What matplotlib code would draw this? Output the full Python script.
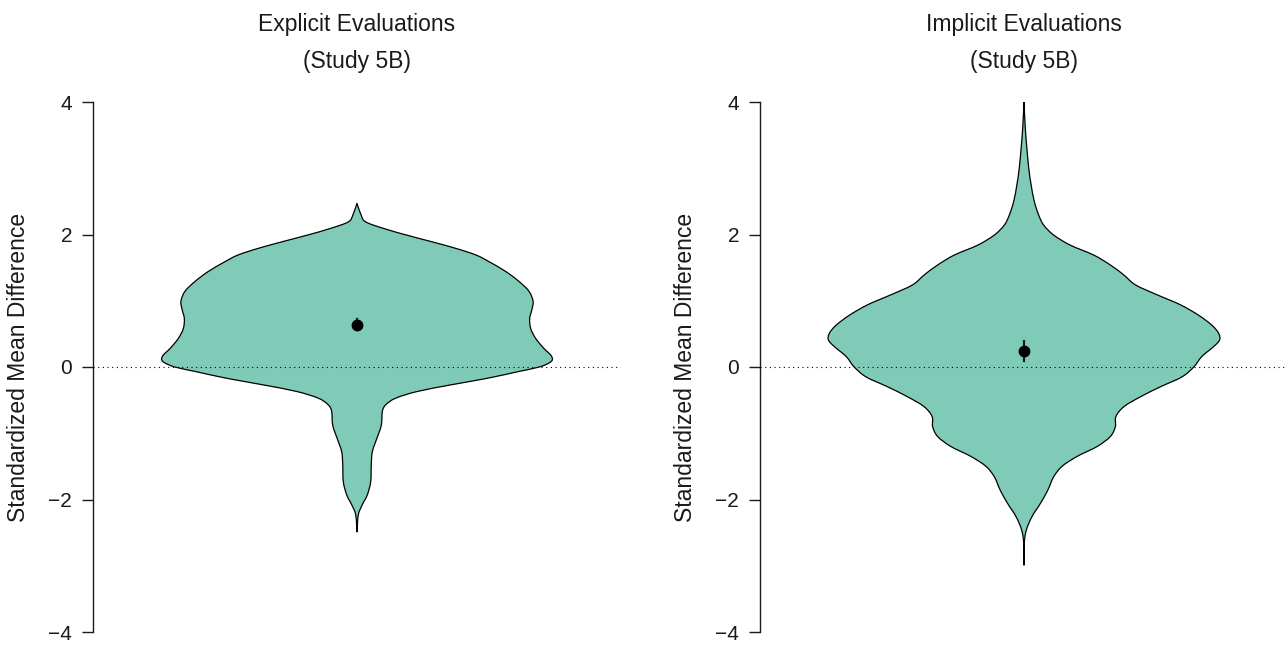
import numpy as np
import matplotlib

matplotlib.use("Agg")

import matplotlib.pyplot as plt
from matplotlib.path import Path
from matplotlib.patches import PathPatch


############################################################
# Data
############################################################

panel_titles = [
    "Explicit Evaluations",
    "Implicit Evaluations",
]

study_label = "(Study 5B)"

y_label = "Standardized Mean Difference"

y_ticks = [-4, -2, 0, 2, 4]

# Violin outlines: density levels (y) and half widths (x units)
explicit_y = [
    2.47, 2.29, 2.19, 2.09, 1.99, 1.89, 1.79, 1.69, 1.59, 1.44,
    1.29, 1.14, 0.99, 0.86, 0.73, 0.58, 0.43, 0.28, 0.18, 0.11,
    0.06, 0.00, -0.07, -0.17, -0.27, -0.37, -0.47, -0.57, -0.67,
    -0.88, -1.08, -1.28, -1.48, -1.73, -1.93, -2.08, -2.23, -2.49,
]

explicit_half_width = [
    0.000, 0.016, 0.033, 0.102, 0.189, 0.284, 0.375, 0.451, 0.500, 0.564,
    0.614, 0.652, 0.667, 0.662, 0.654, 0.658, 0.677, 0.708, 0.734, 0.740,
    0.727, 0.690, 0.610, 0.494, 0.355, 0.228, 0.147, 0.109, 0.096,
    0.092, 0.075, 0.058, 0.054, 0.052, 0.039, 0.020, 0.005, 0.000,
]

implicit_y = [
    4.00, 3.60, 3.30, 3.00, 2.75, 2.50, 2.29, 2.14, 1.99, 1.84,
    1.69, 1.54, 1.39, 1.24, 1.09, 0.94, 0.78, 0.63, 0.51, 0.41,
    0.31, 0.16, 0.00, -0.15, -0.30, -0.45, -0.60, -0.75, -0.90,
    -1.05, -1.20, -1.35, -1.50, -1.66, -1.86, -2.06, -2.26, -2.46,
    -2.66, -2.99,
]

implicit_half_width = [
    0.000, 0.005, 0.011, 0.018, 0.027, 0.039, 0.056, 0.075, 0.113, 0.175,
    0.264, 0.327, 0.378, 0.422, 0.504, 0.592, 0.662, 0.712, 0.737, 0.741,
    0.719, 0.674, 0.643, 0.598, 0.516, 0.441, 0.378, 0.348, 0.346,
    0.327, 0.277, 0.201, 0.144, 0.112, 0.090, 0.062, 0.030, 0.009,
    0.001, 0.000,
]

# Mean estimate with its interval
means = [0.63, 0.24]
ci_low = [0.56, 0.09]
ci_high = [0.72, 0.39]


############################################################
# Style
############################################################

FILL = "#7fcbb8"
INK = "#1a1a1a"

plt.rcParams["font.family"] = ["Liberation Sans", "DejaVu Sans"]


def smooth_segments(points):

    # Catmull-Rom spline through the points, written as cubic Bezier pieces
    points = np.asarray(points, dtype=float)
    n = len(points)

    verts = []

    for i in range(n - 1):
        p0 = points[max(i - 1, 0)]
        p1 = points[i]
        p2 = points[i + 1]
        p3 = points[min(i + 2, n - 1)]

        verts.append(p1 + (p2 - p0) / 6.0)
        verts.append(p2 - (p3 - p1) / 6.0)
        verts.append(p2)

    return verts


def violin_path(y, half_width, centre=1.0):

    y = np.asarray(y, dtype=float)
    half_width = np.asarray(half_width, dtype=float)

    left_side = np.column_stack([centre - half_width, y])
    right_side = np.column_stack([centre + half_width, y])[::-1]

    verts = [left_side[0]]
    verts += smooth_segments(left_side)
    verts += smooth_segments(right_side)
    verts.append(left_side[0])

    codes = (
        [Path.MOVETO]
        + [Path.CURVE4] * (len(verts) - 2)
        + [Path.CLOSEPOLY]
    )

    return Path(np.array(verts), codes)


def draw_panel(ax, y, half_width, mean, low, high):

    centre = 1.0

    ax.add_patch(
        PathPatch(
            violin_path(y, half_width, centre),
            facecolor=FILL,
            edgecolor="black",
            linewidth=0.9,
            joinstyle="round",
            zorder=2,
        )
    )

    ax.axhline(
        0,
        color="black",
        linewidth=0.8,
        linestyle=(0, (1, 3.2)),
        zorder=4,
    )

    ax.plot(
        [centre, centre],
        [low, high],
        color=INK,
        linewidth=1.6,
        zorder=5,
    )

    ax.plot(
        centre,
        mean,
        marker="o",
        markersize=7.5,
        color="black",
        zorder=6,
    )

    ax.set_xlim(0, 2)
    ax.set_ylim(-4, 4)

    ax.set_yticks(y_ticks)
    ax.set_xticks([])

    for side in ["top", "right", "bottom"]:
        ax.spines[side].set_visible(False)

    ax.spines["left"].set_color(INK)
    ax.spines["left"].set_linewidth(1.0)

    ax.tick_params(
        axis="y",
        length=8,
        width=1.0,
        pad=7,
        color=INK,
        labelsize=15,
        labelcolor=INK,
    )

    ax.patch.set_alpha(0)


def main():

    W, H = 1287, 645

    fig = plt.figure(figsize=(W / 100, H / 100), dpi=100)

    panels = [
        (93, explicit_y, explicit_half_width),
        (760, implicit_y, implicit_half_width),
    ]

    for i, (left_px, y, hw) in enumerate(panels):

        ax = fig.add_axes([
            left_px / W,
            (H - 632) / H,
            528 / W,
            530 / H,
        ])

        draw_panel(ax, y, hw, means[i], ci_low[i], ci_high[i])

        title_x = (left_px + 264) / W

        fig.text(
            title_x,
            1 - 31 / H,
            panel_titles[i],
            ha="center",
            va="baseline",
            fontsize=16.5,
            color=INK,
        )

        fig.text(
            title_x,
            1 - 68 / H,
            study_label,
            ha="center",
            va="baseline",
            fontsize=16.5,
            color=INK,
        )

        fig.text(
            (left_px - 74) / W,
            1 - 367 / H,
            y_label,
            rotation=90,
            ha="center",
            va="center",
            fontsize=16.5,
            color=INK,
        )

    fig.savefig("out.png", dpi=100)

    plt.close(fig)


if __name__ == "__main__":
    main()
